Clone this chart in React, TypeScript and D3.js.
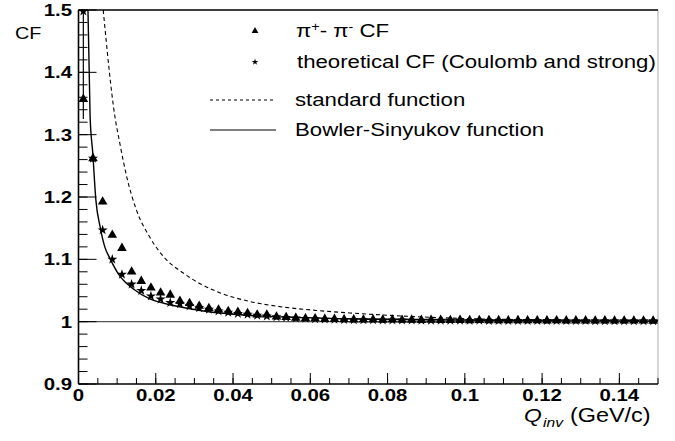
import React from 'react';
import * as d3 from 'd3';

// bin centres of the histogram (GeV/c)
const qBins = [
  0.00125, 0.00375, 0.00625, 0.00875, 0.01125, 0.01375, 0.01625, 0.01875, 0.02125, 0.02375,
  0.02625, 0.02875, 0.03125, 0.03375, 0.03625, 0.03875, 0.04125, 0.04375, 0.04625, 0.04875,
  0.05125, 0.05375, 0.05625, 0.05875, 0.06125, 0.06375, 0.06625, 0.06875, 0.07125, 0.07375,
  0.07625, 0.07875, 0.08125, 0.08375, 0.08625, 0.08875, 0.09125, 0.09375, 0.09625, 0.09875,
  0.10125, 0.10375, 0.10625, 0.10875, 0.11125, 0.11375, 0.11625, 0.11875, 0.12125, 0.12375,
  0.12625, 0.12875, 0.13125, 0.13375, 0.13625, 0.13875, 0.14125, 0.14375, 0.14625, 0.14875,
];

// pi+ pi- measured CF
const measuredCF = [
  1.357, 1.262, 1.1925, 1.139, 1.118, 1.08, 1.065, 1.0545, 1.0465, 1.043,
  1.033, 1.0295, 1.025, 1.0215, 1.019, 1.0167, 1.0156, 1.0135, 1.011, 1.011,
  1.008, 1.007, 1.006, 1.005, 1.005, 1.004, 1.004, 1.0035, 1.0032, 1.003,
  1.0032, 1.0028, 1.003, 1.0026, 1.0028, 1.0025, 1.0026, 1.0024, 1.0022, 1.0024,
  1.002, 1.0022, 1.002, 1.0021, 1.0019, 1.002, 1.0018, 1.0019, 1.0017, 1.0018,
  1.0016, 1.0017, 1.0016, 1.0015, 1.0016, 1.0015, 1.0014, 1.0015, 1.0014, 1.0013,
];
const measuredErrLow = [0.032, 0.006, 0.004];
const measuredErrHigh = [0.2, 0.006, 0.004];

// theoretical CF (Coulomb and strong)
const theoryCF = [
  1.498, 1.262, 1.147, 1.1, 1.0757, 1.06, 1.0497, 1.041, 1.036, 1.0305,
  1.0284, 1.025, 1.022, 1.0196, 1.017, 1.0148, 1.013, 1.0115, 1.01, 1.0087,
  1.0075, 1.0066, 1.0056, 1.005, 1.0043, 1.0038, 1.0034, 1.003, 1.0028, 1.0027,
  1.0026, 1.0025, 1.0024, 1.0023, 1.0022, 1.0021, 1.0021, 1.002, 1.0019, 1.0019,
  1.0018, 1.0018, 1.0017, 1.0017, 1.0016, 1.0016, 1.0016, 1.0015, 1.0015, 1.0015,
  1.0014, 1.0014, 1.0014, 1.0013, 1.0013, 1.0013, 1.0013, 1.0012, 1.0012, 1.0012,
];

// standard function (dashed)
const stdQ = [0.0064, 0.0094, 0.0107, 0.0125, 0.015, 0.0185, 0.0222, 0.0271, 0.0357, 0.0443, 0.0529, 0.0616, 0.0702, 0.0822, 0.1, 0.12, 0.15];
const stdCF = [1.5, 1.33, 1.286, 1.232, 1.179, 1.135, 1.103, 1.078, 1.0485, 1.0325, 1.0235, 1.018, 1.014, 1.0096, 1.005, 1.003, 1.0015];

// Bowler-Sinyukov function (solid)
const bsQ = [0.00245, 0.003, 0.0037, 0.0045, 0.0056, 0.0068, 0.0081, 0.0105, 0.0143, 0.0186, 0.0246, 0.0315, 0.04, 0.049, 0.066, 0.09, 0.12, 0.15];
const bsCF = [1.5, 1.33, 1.27, 1.195, 1.152, 1.12, 1.102, 1.075, 1.052, 1.036, 1.026, 1.018, 1.012, 1.0085, 1.005, 1.003, 1.0015, 1.001];

const xMajor = [0, 0.02, 0.04, 0.06, 0.08, 0.1, 0.12, 0.14];
const yMajor = [0.9, 1, 1.1, 1.2, 1.3, 1.4, 1.5];

const W = 675;
const H = 441;
const SX = 1.2; // the scan is stretched horizontally
const FONT = '"Liberation Sans", Arial, Helvetica, sans-serif';

function T({ x, y, anchor = 'start', size = 17, weight = 'normal', style = 'normal', children }: any) {
  return (
    <text
      transform={`translate(${x},${y}) scale(${SX},1)`}
      textAnchor={anchor}
      fontSize={size}
      fontWeight={weight}
      fontStyle={style}
      fontFamily={FONT}
      fill="#000"
    >
      {children}
    </text>
  );
}

export default function App() {
  const x = d3.scaleLinear().domain([0, 0.15]).range([78.5, 658]);
  const y = d3.scaleLinear().domain([0.9, 1.5]).range([384, 10]);

  const line = d3
    .line<[number, number]>()
    .x(d => x(d[0]))
    .y(d => y(d[1]))
    .curve(d3.curveMonotoneX);

  const stdPath = line(stdQ.map((q, i) => [q, stdCF[i]]));
  const bsPath = line(bsQ.map((q, i) => [q, bsCF[i]]));

  const tri = d3.symbol(d3.symbolTriangle, 40)();
  const star = d3.symbol(d3.symbolStar, 32)();
  const triSmall = d3.symbol(d3.symbolTriangle, 20)();
  const starSmall = d3.symbol(d3.symbolStar, 14)();

  const xMinor = d3.range(0, 0.1501, 0.005);
  const yMinor = d3.range(0.9, 1.5001, 0.02);

  const [x0, x1] = x.range();
  const [y0, y1] = y.range();

  return (
    <svg width={W} height={H} style={{ position: 'absolute', left: 0, top: 0, background: '#fff' }}>
      <defs>
        <clipPath id="plot">
          <rect x={x0} y={y1} width={x1 - x0} height={y0 - y1} />
        </clipPath>
      </defs>

      {/* reference line at CF = 1 */}
      <line x1={x0} x2={x1} y1={y(1)} y2={y(1)} stroke="#555" strokeWidth={1.3} />

      {/* frame */}
      <line x1={x1} x2={x1} y1={y1} y2={y0} stroke="#aaa" strokeWidth={1} />
      <line x1={x0} x2={x1} y1={y1} y2={y1} stroke="#000" strokeWidth={1.6} />
      <line x1={x0} x2={x1} y1={y0} y2={y0} stroke="#000" strokeWidth={1.6} />
      <line x1={x0} x2={x0} y1={y1} y2={y0} stroke="#000" strokeWidth={1.6} />

      {/* ticks */}
      {xMinor.map((v, i) => (
        <line key={'xm' + i} x1={x(v)} x2={x(v)} y1={y0} y2={y0 - 6} stroke="#000" strokeWidth={1} />
      ))}
      {xMajor.map(v => (
        <line key={'xM' + v} x1={x(v)} x2={x(v)} y1={y0} y2={y0 - 11} stroke="#000" strokeWidth={1} />
      ))}
      {yMinor.map((v, i) => (
        <line key={'ym' + i} x1={x0} x2={x0 + 9} y1={y(v)} y2={y(v)} stroke="#000" strokeWidth={1} />
      ))}
      {yMajor.map(v => (
        <line key={'yM' + v} x1={x0} x2={x0 + 18} y1={y(v)} y2={y(v)} stroke="#000" strokeWidth={1} />
      ))}

      {/* tick labels */}
      {xMajor.map(v => (
        <T key={'xl' + v} x={x(v)} y={401} anchor="middle" size={17} weight="bold">
          {d3.format('~g')(v)}
        </T>
      ))}
      {yMajor.map(v => (
        <T key={'yl' + v} x={72} y={y(v) + 6} anchor="end" size={17} weight="bold">
          {d3.format('~g')(v)}
        </T>
      ))}

      {/* axis titles */}
      <T x={15} y={38.5} size={16.5}>CF</T>
      <T x={524} y={422} size={19} style="italic">Q</T>
      <T x={543} y={427} size={13} style="italic">inv</T>
      <T x={570} y={422} size={19.5}>(GeV/c)</T>

      <g clipPath="url(#plot)">
        <path d={stdPath ?? ''} fill="none" stroke="#000" strokeWidth={1.1} strokeDasharray="4,3" />
        <path d={bsPath ?? ''} fill="none" stroke="#000" strokeWidth={1.4} />

        {measuredErrLow.map((e, i) => (
          <line
            key={'err' + i}
            x1={x(qBins[i])}
            x2={x(qBins[i])}
            y1={y(measuredCF[i] - e)}
            y2={y(measuredCF[i] + measuredErrHigh[i])}
            stroke="#000"
            strokeWidth={1.2}
          />
        ))}
        {qBins.map((q, i) => (
          <path key={'tr' + i} d={tri ?? ''} transform={`translate(${x(q)},${y(measuredCF[i])})`} fill="#000" />
        ))}
        {qBins.map((q, i) => (
          <path key={'st' + i} d={star ?? ''} transform={`translate(${x(q)},${y(theoryCF[i])})`} fill="#000" />
        ))}
      </g>

      {/* legend */}
      <path d={triSmall ?? ''} transform="translate(255,31)" fill="#000" />
      <T x={296} y={37} size={18.5}>
        π<tspan fontSize={12} dy={-6}>+</tspan>
        <tspan dy={6}>- π</tspan>
        <tspan fontSize={12} dy={-6}>-</tspan>
        <tspan dy={6}> CF</tspan>
      </T>
      <path d={starSmall ?? ''} transform="translate(255,62)" fill="#000" />
      <T x={297} y={68} size={18.5}>theoretical CF (Coulomb and strong)</T>
      <line x1={210} x2={276} y1={100} y2={100} stroke="#000" strokeWidth={1} strokeDasharray="3,3" />
      <T x={295} y={106} size={18.5}>standard function</T>
      <line x1={210} x2={276} y1={130} y2={130} stroke="#000" strokeWidth={1} />
      <T x={295} y={136} size={18.5}>Bowler-Sinyukov function</T>
    </svg>
  );
}
